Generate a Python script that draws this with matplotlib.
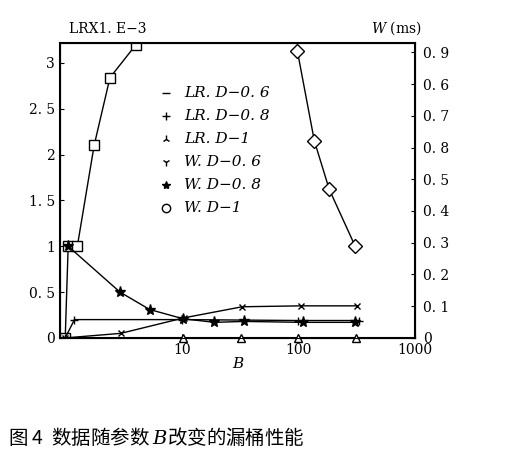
import matplotlib
matplotlib.use("Agg")
import matplotlib.pyplot as plt

plt.rcParams['font.family'] = ['Noto Sans CJK SC', 'DejaVu Sans']
plt.rcParams['mathtext.fontset'] = 'dejavuserif'

# series (left-axis units)
sq_x = [1.0, 1.06, 1.27, 1.77, 2.42, 4.05]
sq_y = [0.0, 1.0, 1.0, 2.1, 2.84, 3.2]
fall_x = [98, 137, 184, 307]
fall_y = [3.13, 2.15, 1.62, 1.0]
star_x = [1.06, 2.95, 5.3, 10.2, 19, 34, 110, 307]
star_y = [1.0, 0.5, 0.31, 0.21, 0.17, 0.18, 0.17, 0.17]
flat_x = [1.0, 1.2, 10, 100, 330]
flat_y = [0.0, 0.2, 0.2, 0.19, 0.19]
rise_x = [1.0, 3.0, 10.5, 33, 105, 320]
rise_y = [0.0, 0.05, 0.22, 0.34, 0.35, 0.35]
zero_x = [10.3, 32, 100, 310]
zero_y = [0.0, 0.0, 0.0, 0.0]

left_ticks = [0, 0.5, 1, 1.5, 2, 2.5, 3]
left_labels = ['0', '0. 5', '1', '1. 5', '2', '2. 5', '3']
right_ticks = [0, 0.1, 0.2, 0.3, 0.4, 0.5, 0.6, 0.7, 0.8, 0.9]
right_labels = ['0', '0. 1', '0. 2', '0. 3', '0. 4', '0. 5', '0. 8', '0. 7', '0. 6', '0. 9']
legend_labels = ['LR. D−0. 6', 'LR. D−0. 8', 'LR. D−1', 'W. D−0. 6', 'W. D−0. 8', 'W. D−1']

fig = plt.figure(figsize=(5.3, 4.7), dpi=100)
ax = fig.add_axes([0.113, 0.281, 0.67, 0.628])
k = dict(color='black', lw=1)
ax.plot(sq_x, sq_y, marker='s', mfc='white', ms=7, **k)
ax.plot(fall_x, fall_y, marker='D', mfc='white', ms=7, **k)
ax.plot(star_x, star_y, marker='*', ms=8, **k)
ax.plot(flat_x, flat_y, marker='+', ms=6, **k)
ax.plot(rise_x, rise_y, marker='x', ms=5, **k)
ax.plot(zero_x, zero_y, marker='^', mfc='white', ms=6, ls='none', color='black',
        clip_on=False, zorder=5)
ax.set_xscale('log')
ax.set_xlim(0.9, 1000)
ax.set_ylim(0, 3.22)
ax.set_yticks(left_ticks)
ax.set_yticklabels(left_labels, fontsize=10, family='serif')
ax.set_xticks([10, 100, 1000])
ax.set_xticklabels(['10', '100', '1000'], fontsize=10, family='serif')
ax.minorticks_off()
ax.tick_params(direction='in', length=3)
for s in ax.spines.values():
    s.set_linewidth(1.5)
ax.set_xlabel('B', fontsize=11, style='italic', family='serif', labelpad=0)
ax2 = ax.twinx()
ax2.set_ylim(0, 0.93)
ax2.set_yticks(right_ticks)
ax2.set_yticklabels(right_labels, fontsize=10, family='serif')
ax2.tick_params(direction='in', length=3, pad=6)

markers = ['_', '+', '2', '1', '*', 'o']
for i, (m, lab) in enumerate(zip(markers, legend_labels)):
    yy = 0.83 - i * 0.078
    ax.plot([0.3], [yy], transform=ax.transAxes, marker=m, color='black',
            mfc='white' if m == 'o' else 'black', ms=6, ls='none')
    ax.text(0.35, yy, lab, transform=ax.transAxes, fontsize=11, style='italic',
            family='serif', va='center')

fig.text(0.13, 0.93, 'LRX1. E−3', fontsize=10, family='serif')
fig.text(0.70, 0.93, '$W$ (ms)', fontsize=10, family='serif')
fig.text(0.015, 0.055, '图 4  数据随参数 $B$改变的漏桶性能', fontsize=14)
fig.savefig('out.png')
